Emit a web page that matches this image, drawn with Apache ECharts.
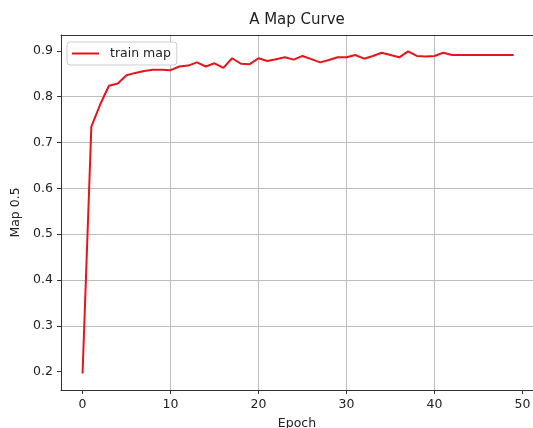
<!DOCTYPE html>
<html>
<head>
<meta charset="utf-8">
<script src="https://cdn.jsdelivr.net/npm/echarts@6/dist/echarts.min.js"></script>
<style>
html,body{margin:0;padding:0;background:#fff;}
#chart{width:533px;height:428px;}
</style>
</head>
<body>
<div id="chart"></div>
<script>
// Data
var epochs = [0,1,2,3,4,5,6,7,8,9,10,11,12,13,14,15,16,17,18,19,20,21,22,23,24,25,26,27,28,29,30,31,32,33,34,35,36,37,38,39,40,41,42,43,44,45,46,47,48,49];
var trainMap = [0.196,0.735,0.783,0.824,0.829,0.847,0.852,0.856,0.859,0.859,
                0.858,0.866,0.868,0.875,0.866,0.873,0.863,0.884,0.872,0.871,
                0.884,0.878,0.882,0.886,0.881,0.889,0.882,0.875,0.880,0.886,
                0.886,0.891,0.883,0.889,0.896,0.891,0.886,0.899,0.889,0.888,
                0.889,0.896,0.891,0.891,0.891,0.891,0.891,0.891,0.891,0.891];
var xTicks = [0,10,20,30,40,50];
var yTicks = [0.2,0.3,0.4,0.5,0.6,0.7,0.8,0.9];
var titleText = 'A Map Curve';
var xName = 'Epoch';
var yName = 'Map 0.5';
var seriesName = 'train map';

var font = 'DejaVu Sans';
var spine = '#333333';
var chart = echarts.init(document.getElementById('chart'), null, {renderer:'canvas'});
var pairs = epochs.map(function(e,i){return [e, trainMap[i]];});
var xMin = -2.45, xMax = 51.2;
chart.setOption({
  animation:false,
  backgroundColor:'#ffffff',
  title:{
    text:titleText, left:297, top:13, textAlign:'center', padding:0,
    textStyle:{fontFamily:font,fontSize:15,fontWeight:'normal',color:'#222'}
  },
  legend:{
    data:[seriesName], left:67, top:42, orient:'vertical',
    icon:'rect', itemWidth:27, itemHeight:2,
    padding:[5,6,5,5], borderColor:'#cccccc', borderWidth:1, borderRadius:3,
    backgroundColor:'#ffffff',
    textStyle:{fontFamily:font,fontSize:12.5,color:'#222',padding:[0,0,0,6]}
  },
  grid:{left:61, top:35, right:0, bottom:38, show:false, containLabel:false, outerBoundsMode:'none'},
  xAxis:[{
    type:'value', min:xMin, max:xMax,
    name:xName, nameLocation:'middle', nameGap:27,
    nameTextStyle:{fontFamily:font,fontSize:12.5,color:'#222'},
    axisLine:{show:true, onZero:false, lineStyle:{color:spine,width:1}},
    axisTick:{show:true, length:4, lineStyle:{color:spine}, customValues:xTicks},
    axisLabel:{fontFamily:font,fontSize:12.5,color:'#222',margin:8, customValues:xTicks, formatter:function(v){return String(v);}},
    splitLine:{show:true, showMinLine:false, showMaxLine:false, lineStyle:{color:'#bdbdbd',width:1}}
  },{
    type:'value', min:xMin, max:xMax, position:'top',
    axisLine:{show:true, onZero:false, lineStyle:{color:spine,width:1}},
    axisTick:{show:false}, axisLabel:{show:false}, splitLine:{show:false}
  }],
  yAxis:{
    type:'value', min:0.16, max:0.9347,
    name:yName, nameLocation:'middle', nameGap:35,
    nameTextStyle:{fontFamily:font,fontSize:12.5,color:'#222'},
    axisLine:{show:true, onZero:false, lineStyle:{color:spine,width:1}},
    axisTick:{show:true, length:4, lineStyle:{color:spine}, customValues:yTicks},
    axisLabel:{fontFamily:font,fontSize:12.5,color:'#222',margin:8, customValues:yTicks, formatter:function(v){return v.toFixed(1);}},
    splitLine:{show:true, showMinLine:false, showMaxLine:false, lineStyle:{color:'#bdbdbd',width:1}}
  },
  series:[{
    name:seriesName, type:'line', data:pairs, showSymbol:false, symbol:'none',
    xAxisIndex:0, yAxisIndex:0,
    lineStyle:{color:'#e8141c', width:2}, itemStyle:{color:'#e8141c'}
  }]
});
</script>
</body>
</html>
